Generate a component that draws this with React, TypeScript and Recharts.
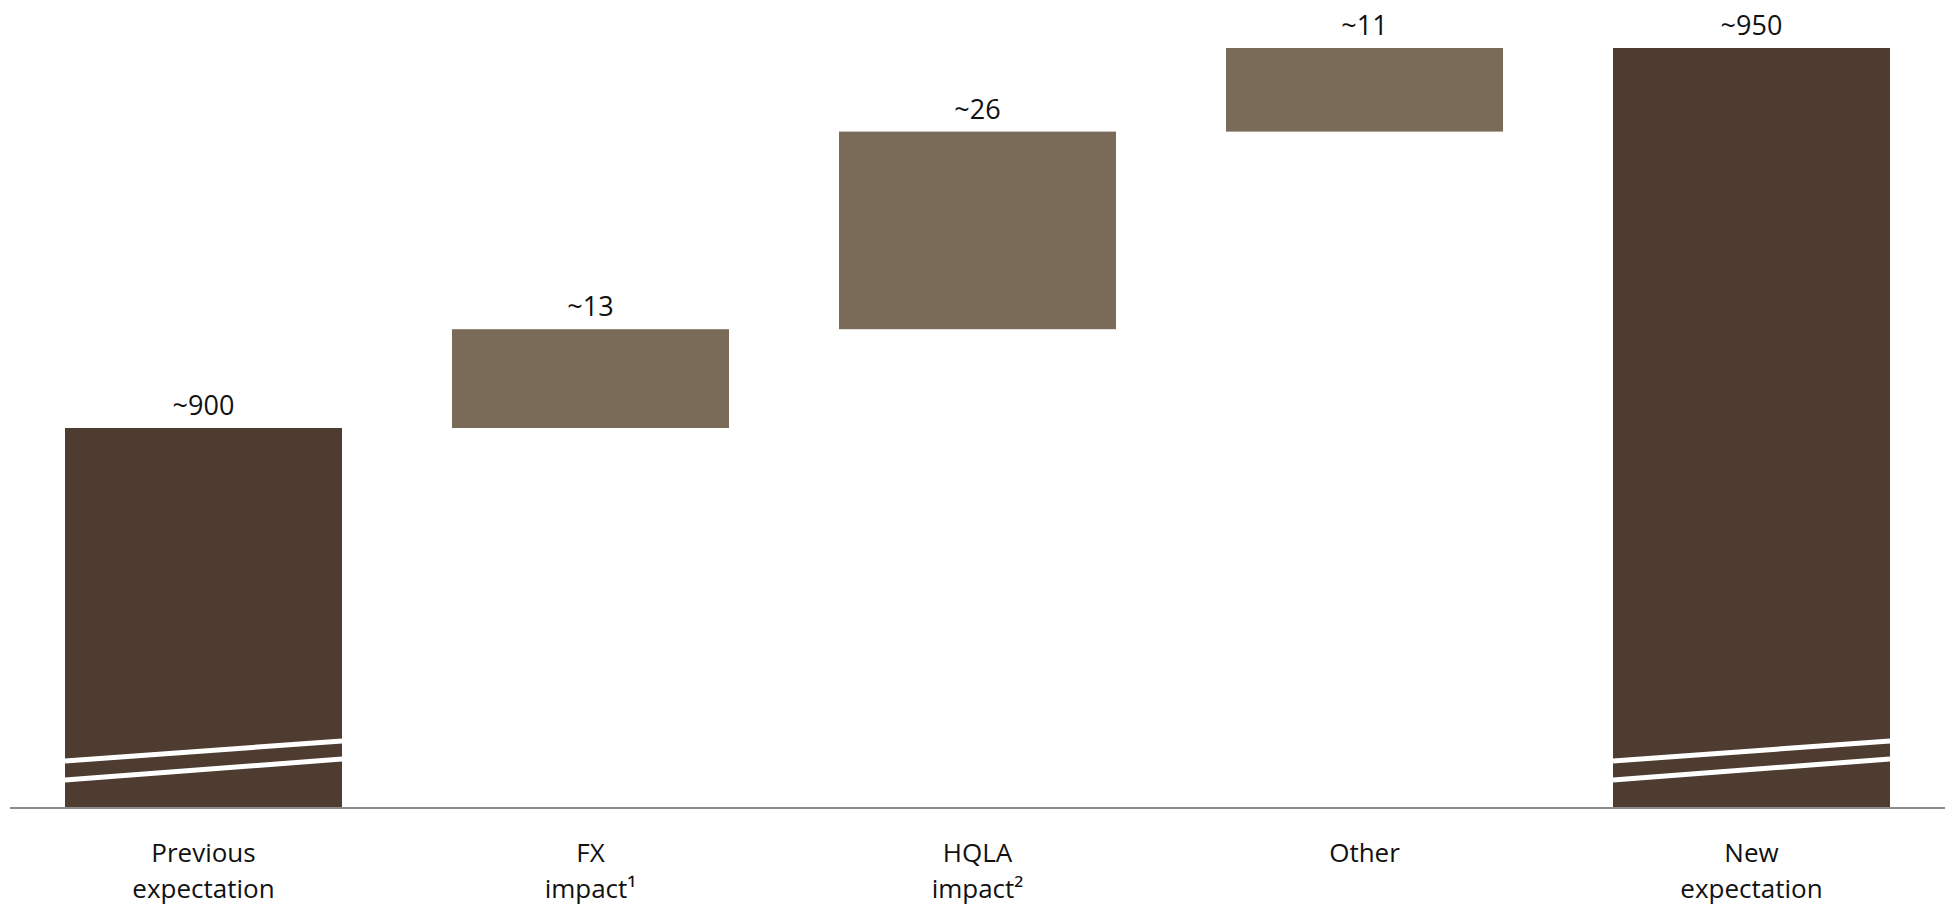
import { Bar, BarChart, LabelList, XAxis, YAxis } from 'recharts';

// waterfall steps, left to right
const categories = [
  ['Previous', 'expectation'],
  ['FX', 'impact¹'],
  ['HQLA', 'impact²'],
  ['Other'],
  ['New', 'expectation'],
];
const values = [900, 13, 26, 11, 950];
const kinds = ['total', 'delta', 'delta', 'delta', 'total'];
const valueLabels = ['~900', '~13', '~26', '~11', '~950'];

// broken axis: the bars start at this value, not at zero
const axisFloor = 850;
const axisTop = 950;

const DARK = '#4e3c31';
const LIGHT = '#7a6b59';
const FONT = '"Open Sans", "Noto Sans", sans-serif';

type Row = { key: number; range: [number, number]; kind: string; label: string };

function buildRows(): Row[] {
  let running = 0;
  return values.map((v, i) => {
    let range: [number, number];
    if (kinds[i] === 'total') {
      range = [axisFloor, v];
      running = v;
    } else {
      range = [running, running + v];
      running += v;
    }
    return { key: i, range, kind: kinds[i], label: valueLabels[i] };
  });
}

const data = buildRows();

function StepBar(props: any) {
  const { x, y, width, height, payload } = props;
  const isTotal = payload.kind === 'total';
  const bottom = y + height;
  return (
    <g>
      <rect x={x} y={y} width={width} height={height} fill={isTotal ? DARK : LIGHT} />
      {isTotal && (
        <>
          <line x1={x} y1={bottom - 47} x2={x + width} y2={bottom - 67} stroke="#fff" strokeWidth={5} />
          <line x1={x} y1={bottom - 28} x2={x + width} y2={bottom - 49} stroke="#fff" strokeWidth={5} />
        </>
      )}
    </g>
  );
}

function CategoryTick(props: any) {
  const { x, y, payload } = props;
  const lines = categories[payload.value] ?? [];
  return (
    <text x={x} y={y} textAnchor="middle" fill="#111" fontSize={26} fontFamily={FONT}>
      {lines.map((line, i) => (
        <tspan key={i} x={x} dy={i === 0 ? 46 : 36}>
          {line}
        </tspan>
      ))}
    </text>
  );
}

export default function App() {
  return (
    <div style={{ position: 'absolute', left: 0, top: 0, width: 1952, height: 907, background: '#fff' }}>
      <BarChart
        width={1952}
        height={907}
        data={data}
        margin={{ top: 48, right: 7, bottom: 29, left: 10 }}
      >
        <XAxis
          dataKey="key"
          type="category"
          interval={0}
          height={70}
          tickLine={false}
          axisLine={{ stroke: '#8c8c8c', strokeWidth: 2 }}
          tick={<CategoryTick />}
        />
        <YAxis hide domain={[axisFloor, axisTop]} allowDataOverflow />
        <Bar dataKey="range" barSize={277} shape={<StepBar />} isAnimationActive={false}>
          <LabelList
            dataKey="label"
            position="top"
            offset={13}
            fill="#111"
            fontSize={27}
            fontFamily={FONT}
          />
        </Bar>
      </BarChart>
    </div>
  );
}
